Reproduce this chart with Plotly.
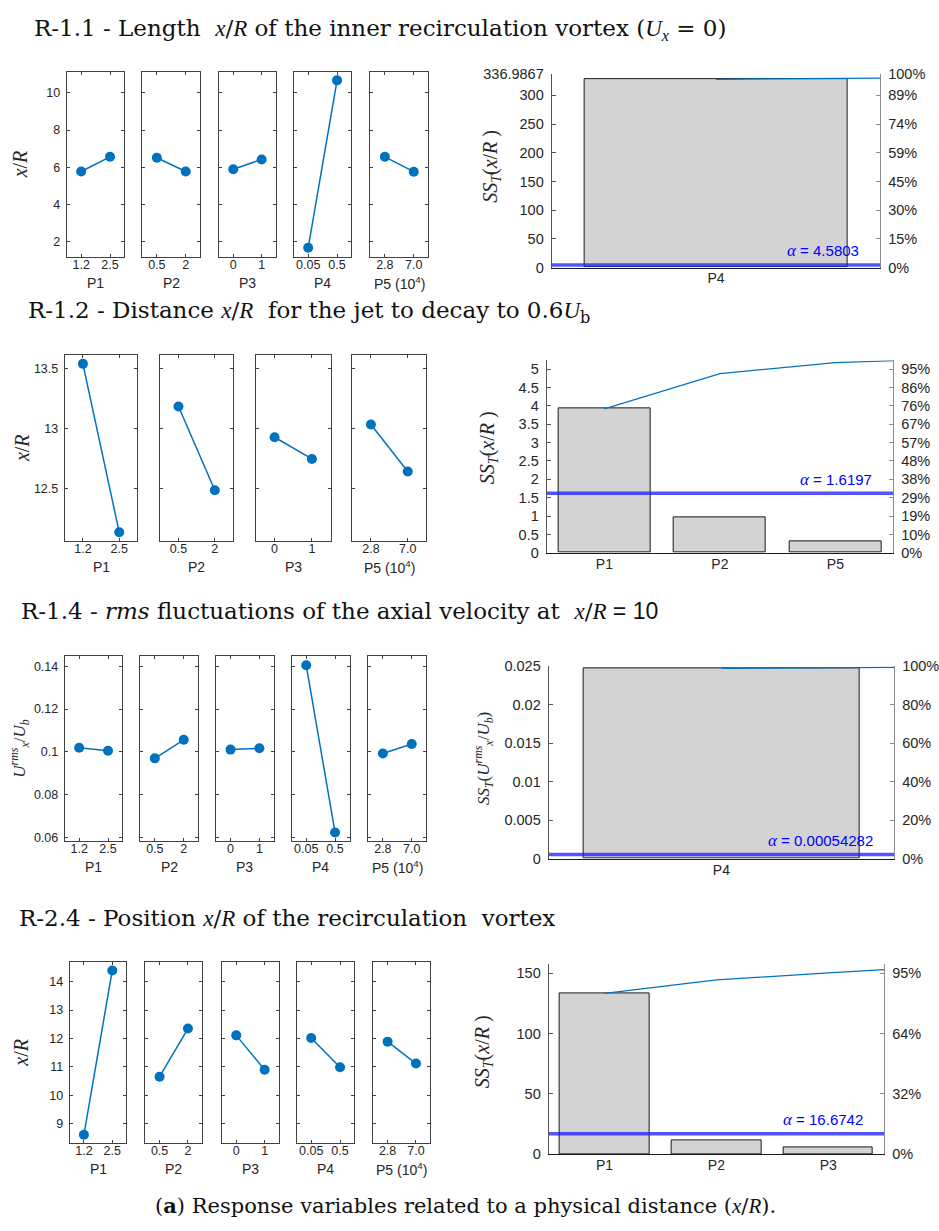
import plotly.graph_objects as go

W, H = 939, 1231

# ---------------- data ----------------
levels_5 = [["1.2", "2.5"], ["0.5", "2"], ["0", "1"], ["0.05", "0.5"], ["2.8", "7.0"]]
names_5 = ["P1", "P2", "P3", "P4", "P5 (10<sup>4</sup>)"]
levels_4 = [["1.2", "2.5"], ["0.5", "2"], ["0", "1"], ["2.8", "7.0"]]
names_4 = ["P1", "P2", "P3", "P5 (10<sup>4</sup>)"]

r11_means = [[5.77, 6.56], [6.51, 5.77], [5.89, 6.42], [1.67, 10.67], [6.56, 5.76]]
r11_pareto_names = ["P4"]
r11_ss = [328.0]
r11_cum = [328.0, 330.0]
r11_total = 336.9867
r11_alpha = 4.5803
r11_yticks = [0, 50, 100, 150, 200, 250, 300, 336.9867]
r11_yticktext = ["0", "50", "100", "150", "200", "250", "300", "336.9867"]

r12_means = [[13.54, 12.14], [13.186, 12.49], [12.93, 12.75], [13.036, 12.645]]
r12_pareto_names = ["P1", "P2", "P5"]
r12_ss = [3.92, 0.96, 0.30]
r12_cum = [3.92, 4.88, 5.18, 5.23]
r12_total = 5.24
r12_alpha = 1.6197
r12_yticks = [0, 0.5, 1, 1.5, 2, 2.5, 3, 3.5, 4, 4.5, 5]
r12_yticktext = ["0", "0.5", "1", "1.5", "2", "2.5", "3", "3.5", "4", "4.5", "5"]

r14_means = [[0.1019, 0.1005], [0.0969, 0.1056], [0.1010, 0.1016], [0.1405, 0.0622], [0.0992, 0.1036]]
r14_pareto_names = ["P4"]
r14_ss = [0.02474]
r14_cum = [0.02474, 0.02486]
r14_total = 0.025
r14_alpha = 0.00054282
r14_yticks = [0, 0.005, 0.01, 0.015, 0.02, 0.025]
r14_yticktext = ["0", "0.005", "0.01", "0.015", "0.02", "0.025"]

r24_means = [[8.62, 14.39], [10.66, 12.35], [12.11, 10.90], [12.02, 10.99], [11.89, 11.12]]
r24_pareto_names = ["P1", "P2", "P3"]
r24_ss = [133.3, 11.2, 5.7]
r24_cum = [133.3, 144.5, 150.2, 153.0]
r24_total = 157.3
r24_alpha = 16.6742
r24_yticks = [0, 50, 100, 150]
r24_yticktext = ["0", "50", "100", "150"]

# ---------------- styles ----------------
SANS = "Liberation Sans"
SERIF = "DejaVu Serif"
BLUE = "#0072BD"
AX = "#404040"
TXT = "#262626"


def M(s):
    return "<span style=\"font-family:'Liberation Serif';font-style:italic\">" + s + "</span>"


def fx(p):
    return p / W


def fy(p):
    return 1 - p / H


fig = go.Figure()
layout = {}
annotations = []
cnt = {"x": 0, "y": 0}


def new(prefix):
    cnt[prefix] += 1
    return cnt[prefix]


def aname(prefix, n):
    return prefix + "axis" + ("" if n == 1 else str(n))


def ref(prefix, n):
    return prefix + ("" if n == 1 else str(n))


def main_effects(panels, ytop, ybot, yrange, yticks, yticktext, levels, names, means, ylabel, ylab_x, ylab_size=20):
    for k, (x0, x1) in enumerate(panels):
        nx = new("x")
        ny = new("y")
        layout[aname("x", nx)] = dict(
            domain=[fx(x0), fx(x1)], anchor=ref("y", ny), range=[-0.5, 1.5],
            tickvals=[0, 1], ticktext=levels[k], ticks="inside", ticklen=3,
            mirror="ticks", showline=True, linecolor=AX, linewidth=1, tickcolor=AX,
            showgrid=False, zeroline=False, fixedrange=True, ticklabelstandoff=-4,
            tickfont=dict(family=SANS, size=12.5, color=TXT))
        layout[aname("y", ny)] = dict(
            domain=[fy(ybot), fy(ytop)], anchor=ref("x", nx), range=yrange,
            tickvals=yticks, ticktext=yticktext, showticklabels=(k == 0),
            ticks="inside", ticklen=3, mirror="ticks", showline=True, linecolor=AX,
            linewidth=1, tickcolor=AX, showgrid=False, zeroline=False, fixedrange=True,
            ticklabelstandoff=3,
            tickfont=dict(family=SANS, size=12.5, color=TXT))
        fig.add_trace(go.Scatter(
            x=[0, 1], y=means[k], xaxis=ref("x", nx), yaxis=ref("y", ny),
            mode="lines+markers", line=dict(color=BLUE, width=1.5),
            marker=dict(color=BLUE, size=10), showlegend=False, hoverinfo="skip"))
        annotations.append(dict(
            text=names[k], xref=ref("x", nx) + " domain", x=0.5,
            yref=ref("y", ny) + " domain", y=0, yshift=-26, showarrow=False,
            xanchor="center", yanchor="middle",
            font=dict(family=SANS, size=14, color=TXT)))
    annotations.append(dict(
        text=ylabel, xref="paper", x=fx(ylab_x), yref="paper", y=fy((ytop + ybot) / 2),
        textangle=-90, showarrow=False, xanchor="center", yanchor="middle",
        font=dict(family="Liberation Serif", size=ylab_size, color=TXT)))


def pareto(x0, x1, ytop, ybot, names, ss, cum, total, alpha, yticks, yticktext, ylabel, ylab_x, ylab_y, ylab_size=20):
    nx = new("x")
    nyl = new("y")
    nyr = new("y")
    n = len(names)
    yrange = [0, total]
    layout[aname("x", nx)] = dict(
        domain=[fx(x0), fx(x1)], anchor=ref("y", nyl), range=[-0.5, n - 0.5],
        tickvals=list(range(n)), ticktext=names, ticks="", showline=True,
        linecolor="#1a1a1a", linewidth=1, showgrid=False, zeroline=False,
        fixedrange=True, ticklabelstandoff=-2,
        tickfont=dict(family=SANS, size=14, color=TXT))
    layout[aname("y", nyl)] = dict(
        domain=[fy(ybot), fy(ytop)], anchor=ref("x", nx), range=yrange,
        tickvals=yticks, ticktext=yticktext, ticks="inside", ticklen=4,
        showline=True, linecolor="#555555", linewidth=1, tickcolor="#555555",
        showgrid=False, zeroline=False, fixedrange=True, ticklabelstandoff=4,
        tickfont=dict(family=SANS, size=14.5, color=TXT))
    pct = ["%d%%" % int(round(v / total * 100)) for v in yticks]
    layout[aname("y", nyr)] = dict(
        domain=[fy(ybot), fy(ytop)], anchor=ref("x", nx), overlaying=ref("y", nyl),
        side="right", range=yrange, tickvals=yticks, ticktext=pct, ticks="inside",
        ticklen=4, showline=True, linecolor="#8a8a8a", linewidth=1.2,
        tickcolor="#8a8a8a", showgrid=False, zeroline=False, fixedrange=True,
        ticklabelstandoff=4, tickfont=dict(family=SANS, size=14.5, color=TXT))
    fig.add_trace(go.Bar(
        x=list(range(n)), y=ss, width=0.8, xaxis=ref("x", nx), yaxis=ref("y", nyl),
        marker=dict(color="#d3d3d3", line=dict(color="#1a1a1a", width=1)),
        showlegend=False, hoverinfo="skip"))
    if n == 1:
        cx = [0, 0.5]
    else:
        cx = list(range(len(cum) - 1)) + [n - 0.5]
    fig.add_trace(go.Scatter(
        x=cx, y=cum, xaxis=ref("x", nx), yaxis=ref("y", nyr), mode="lines",
        line=dict(color=BLUE, width=1.2), showlegend=False, hoverinfo="skip"))
    fig.add_trace(go.Scatter(
        x=[-0.5, n - 0.5], y=[alpha, alpha], xaxis=ref("x", nx), yaxis=ref("y", nyl),
        mode="lines", line=dict(color="rgba(25,25,255,0.75)", width=3.5),
        showlegend=False, hoverinfo="skip"))
    annotations.append(dict(
        text="<span style=\"font-family:'Liberation Serif';font-style:italic;font-size:17px\">α</span> = " + str(alpha),
        xref=ref("x", nx) + " domain", x=1, xshift=-19, yref=ref("y", nyl), y=alpha,
        yshift=14, xanchor="right", yanchor="middle", showarrow=False,
        font=dict(family=SANS, size=15, color="#0000ff")))
    annotations.append(dict(
        text=ylabel, xref="paper", x=fx(ylab_x), yref="paper", y=fy(ylab_y),
        textangle=-90, showarrow=False, xanchor="center", yanchor="middle",
        font=dict(family="Liberation Serif", size=ylab_size, color=TXT)))


xR = M("x") + "/" + M("R")
urms = M("U") + "<sup>" + M("rms") + "</sup><sub>" + M("x") + "</sub>/" + M("U") + "<sub>" + M("b") + "</sub>"

# ---------------- rows ----------------
main_effects([(67, 125), (143, 201), (220, 277), (295, 353), (372, 430)], 65, 252,
             [1.19, 11.11], [2, 4, 6, 8, 10], ["2", "4", "6", "8", "10"],
             levels_5, names_5, r11_means, xR, 21)
pareto(554, 884, 67, 263, r11_pareto_names, r11_ss, r11_cum, r11_total, r11_alpha,
       r11_yticks, r11_yticktext,
       M("SS") + "<sub>" + M("T") + "</sub>(" + xR + " )", 494, 160)

main_effects([(65, 138), (161, 234), (257, 332), (354, 428)], 352, 540,
             [12.068, 13.61], [12.5, 13, 13.5], ["12.5", "13", "13.5"],
             levels_4, names_4, r12_means, xR, 22)
pareto(549, 897, 357, 552, r12_pareto_names, r12_ss, r12_cum, r12_total, r12_alpha,
       r12_yticks, r12_yticktext,
       M("SS") + "<sub>" + M("T") + "</sub>(" + xR + " )", 490, 445)

main_effects([(65, 123), (141, 199), (217, 275), (293, 351), (370, 428)], 657, 844,
             [0.0582, 0.1446], [0.06, 0.08, 0.1, 0.12, 0.14],
             ["0.06", "0.08", "0.1", "0.12", "0.14"],
             levels_5, names_5, r14_means, urms, 20, 17)
pareto(551, 898, 667, 862, r14_pareto_names, r14_ss, r14_cum, r14_total, r14_alpha,
       r14_yticks, r14_yticktext,
       M("SS") + "<sub>" + M("T") + "</sub>(" + urms + ")", 485, 760, 17)

main_effects([(70, 127), (146, 203), (223, 280), (298, 356), (375, 432)], 967, 1150,
             [8.33, 14.67], [9, 10, 11, 12, 13, 14], ["9", "10", "11", "12", "13", "14"],
             levels_5, names_5, r24_means, xR, 21)
pareto(551, 888, 969, 1161, r24_pareto_names, r24_ss, r24_cum, r24_total, r24_alpha,
       r24_yticks, r24_yticktext,
       M("SS") + "<sub>" + M("T") + "</sub>(" + xR + " )", 485, 1057)

# ---------------- titles ----------------
titles = [
    ("R-1.1 - Length&nbsp; " + xR + " of the inner recirculation vortex (" + M("U") + "<sub>" + M("x") + "</sub> = 0)", 32, 22),
    ("R-1.2 - Distance " + xR + "&nbsp; for the jet to decay to 0.6" + M("U") + "<sub>b</sub>", 26, 308),
    ("R-1.4 - <i>rms</i> fluctuations of the axial velocity at&nbsp; " + xR + "<span style=\"font-family:'Liberation Sans'\"> = 10</span>", 19, 611),
    ("R-2.4 - Position " + xR + " of the recirculation&nbsp; vortex", 17, 922),
]
for t, x, y in titles:
    annotations.append(dict(text=t, xref="paper", yref="paper", x=fx(x), y=fy(y),
                            xanchor="left", yanchor="middle", showarrow=False,
                            font=dict(family=SERIF, size=23, color="#111111")))

annotations.append(dict(
    text="(<b>a</b>) Response variables related to a physical distance (" + M("x") + "/" + M("R") + ").",
    xref="paper", yref="paper", x=fx(467), y=fy(1213), xanchor="center", yanchor="middle",
    showarrow=False, font=dict(family=SERIF, size=21, color="#111111")))

fig.update_layout(**layout)
fig.update_layout(width=W, height=H, margin=dict(l=0, r=0, t=0, b=0),
                  paper_bgcolor="white", plot_bgcolor="white",
                  annotations=annotations, showlegend=False, bargap=0)
fig.write_html("out.html", config={"displayModeBar": False})
